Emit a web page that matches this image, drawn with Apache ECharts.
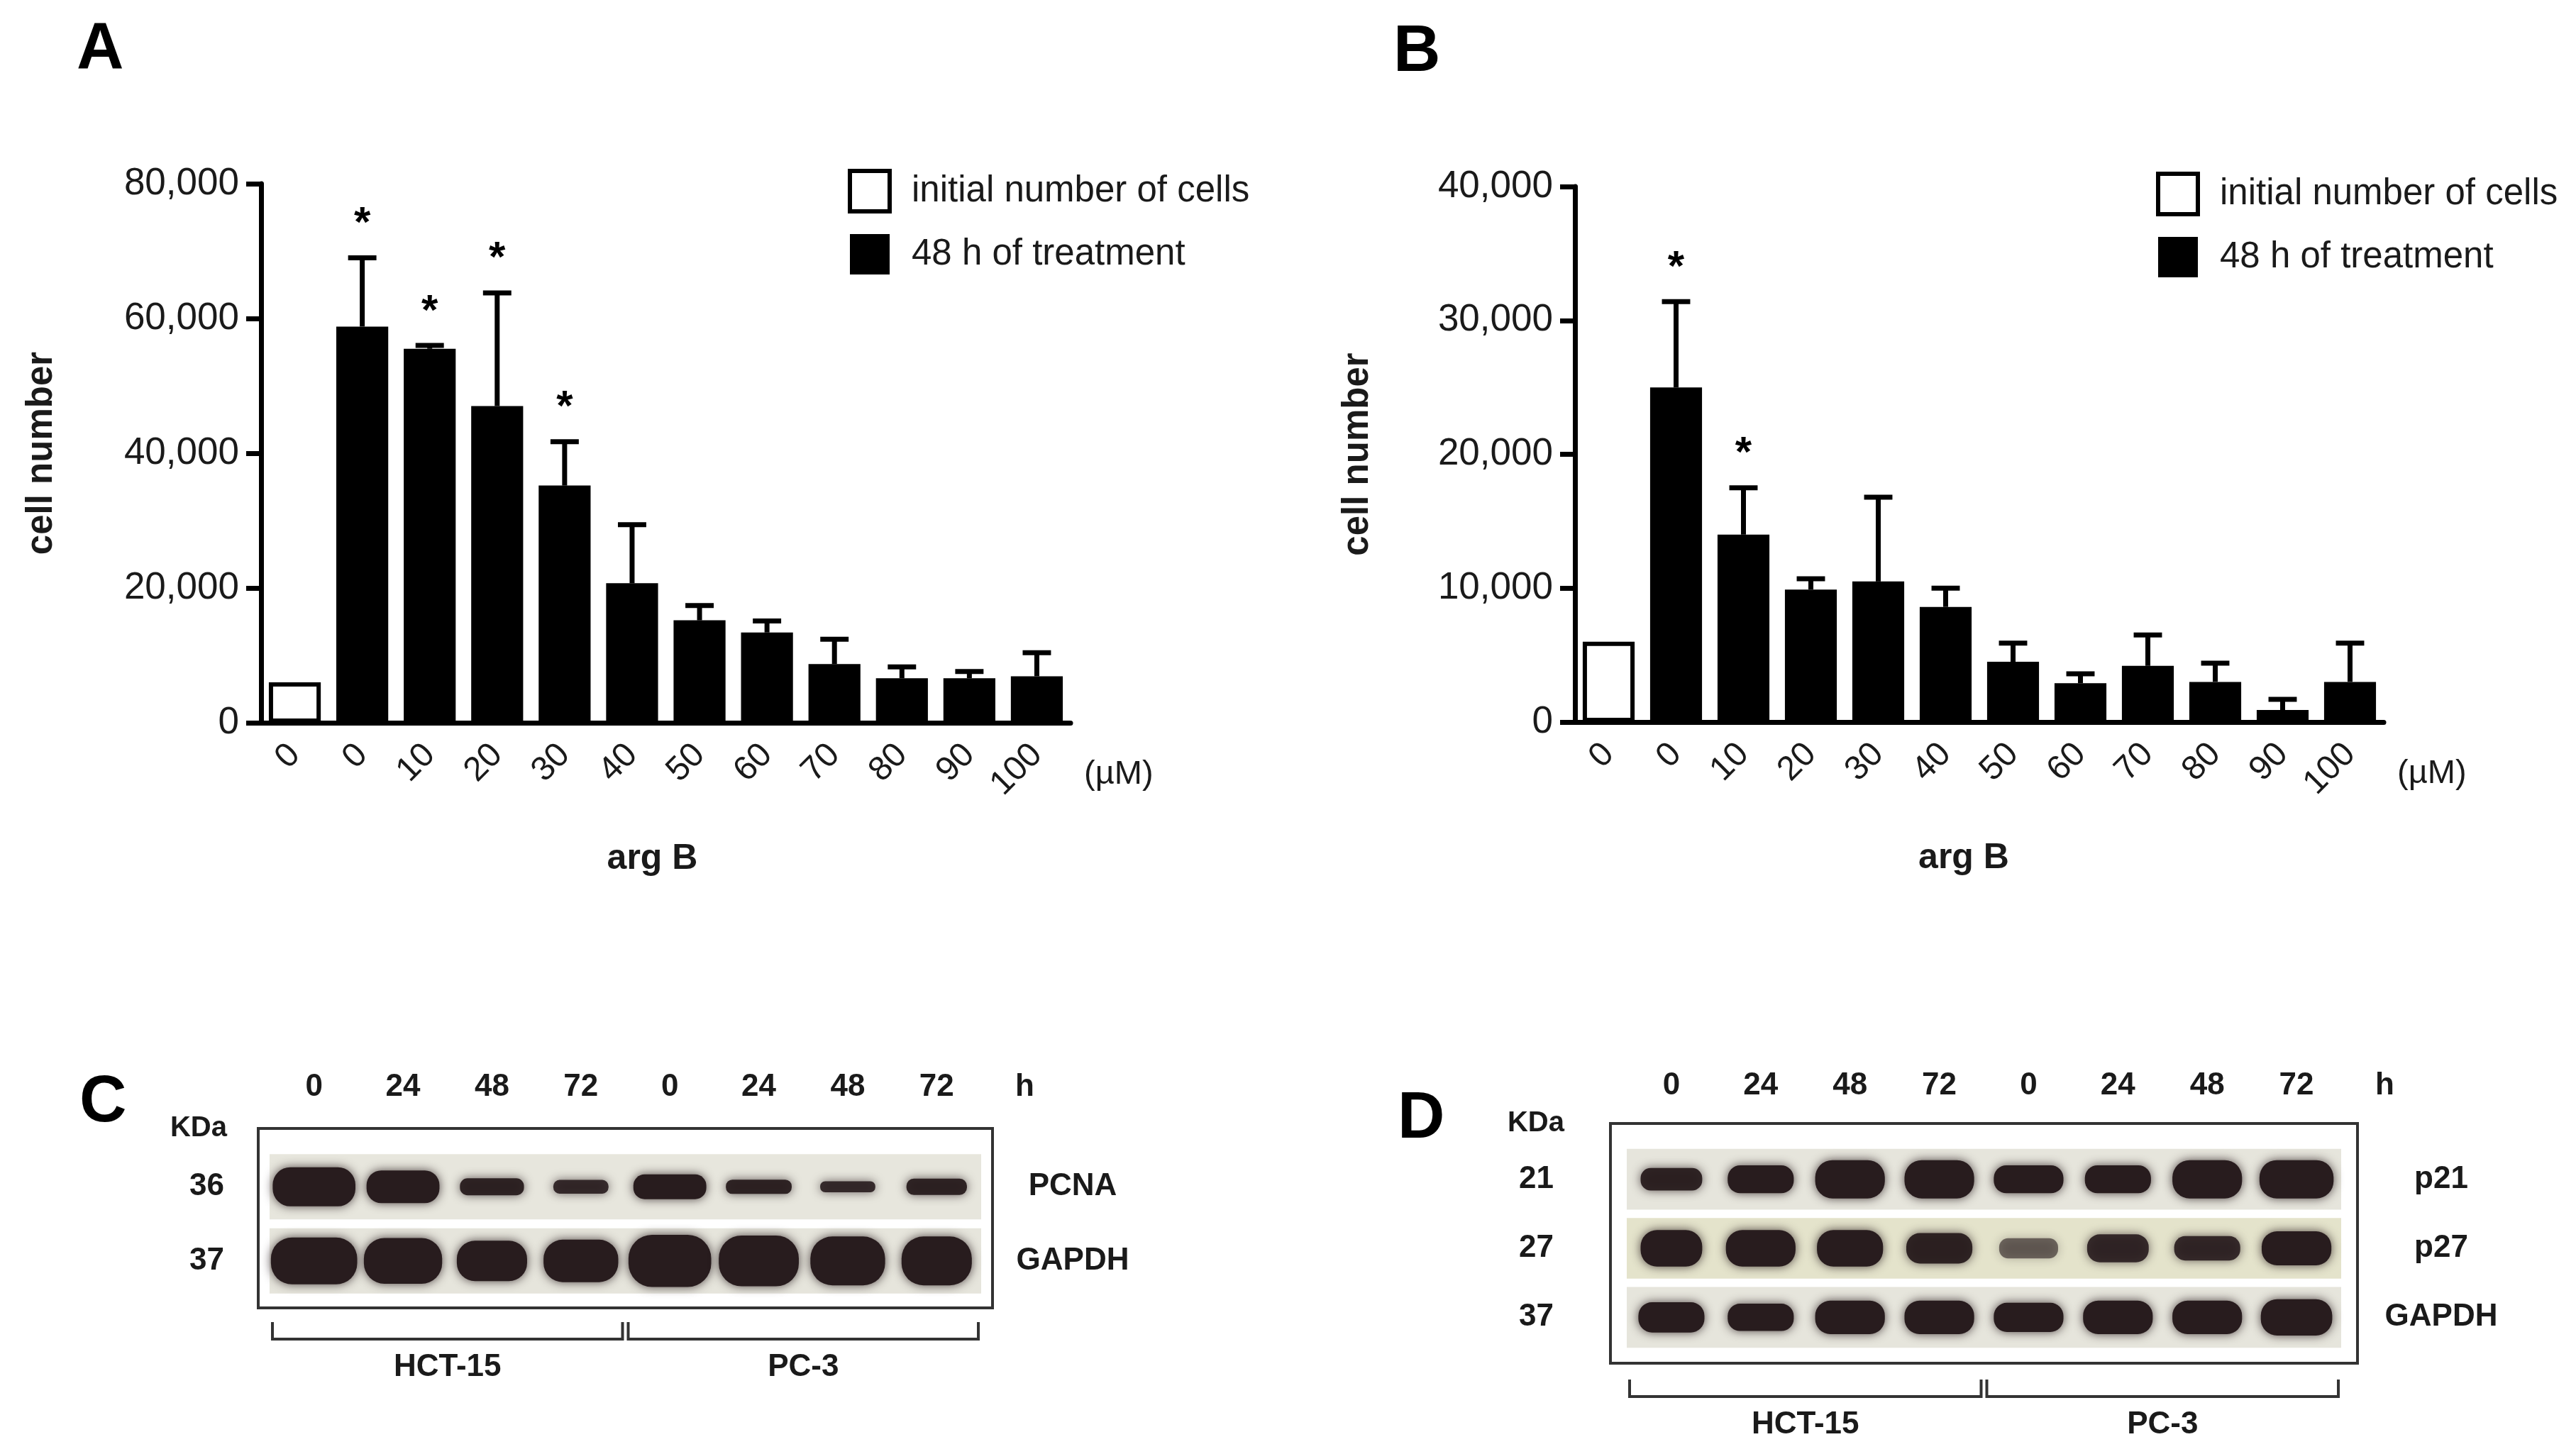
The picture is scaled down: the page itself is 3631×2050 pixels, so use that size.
<!DOCTYPE html>
<html>
<head>
<meta charset="utf-8">
<title>arg B - cell number and western blots</title>
<script src="https://cdn.jsdelivr.net/npm/echarts@6/dist/echarts.min.js"></script>
<style>
html,body{margin:0;padding:0;background:#fff;}
#chart{width:3631px;height:2050px;}
</style>
</head>
<body>
<div id="chart"></div>
<script>
'use strict';

//剂量（µM），第一个为初始细胞数
var doses = ['0', '0', '10', '20', '30', '40', '50', '60', '70', '80', '90', '100'];
var legendNames = ['initial number of cells', '48 h of treatment'];

//A：初始细胞数 + 48 h 处理后（均值 / 误差 / 显著性）
var aInitial = 6000;
var aMean = [58800, 55500, 47000, 35200, 20700, 15200, 13400, 8700, 6600, 6600, 6900];
var aErr  = [10200, 500, 16800, 6500, 8700, 2200, 1700, 3700, 1700, 1000, 3500];
var aStar = [1, 1, 1, 1, 0, 0, 0, 0, 0, 0, 0];
var aTicks = [0, 20000, 40000, 60000, 80000];

//B
var bInitial = 6000;
var bMean = [25000, 14000, 9900, 10500, 8600, 4500, 2900, 4200, 3000, 900, 3000];
var bErr  = [6400, 3500, 800, 6300, 1400, 1400, 700, 2300, 1400, 800, 2900];
var bStar = [1, 1, 0, 0, 0, 0, 0, 0, 0, 0, 0];
var bTicks = [0, 10000, 20000, 30000, 40000];

//Western blot 泳道（h）
var lanes = ['0', '24', '48', '72', '0', '24', '48', '72'];
var cellLines = ['HCT-15', 'PC-3'];
var groupStart = [0, 4];
var groupEnd = [3, 7];

//C：条带宽度（泳道比例）、高度（膜条比例）、深浅
var cProteins = ['PCNA', 'GAPDH'];
var cKda = ['36', '37'];
var cBandW = [
    [0.93, 0.82, 0.72, 0.62, 0.82, 0.74, 0.62, 0.68],
    [0.97, 0.88, 0.79, 0.84, 0.93, 0.9, 0.84, 0.79]
];
var cBandH = [
    [0.6, 0.5, 0.26, 0.21, 0.38, 0.22, 0.17, 0.25],
    [0.72, 0.7, 0.62, 0.65, 0.8, 0.78, 0.75, 0.75]
];
var cBandD = [
    [1, 1, 0.95, 0.9, 1, 0.95, 0.9, 0.95],
    [1, 1, 1, 1, 1, 1, 1, 1]
];

//D
var dProteins = ['p21', 'p27', 'GAPDH'];
var dKda = ['21', '27', '37'];
var dBandW = [
    [0.69, 0.74, 0.78, 0.78, 0.78, 0.74, 0.78, 0.83],
    [0.69, 0.78, 0.74, 0.74, 0.66, 0.69, 0.74, 0.78],
    [0.74, 0.74, 0.78, 0.78, 0.78, 0.78, 0.78, 0.8]
];
var dBandH = [
    [0.37, 0.46, 0.63, 0.63, 0.46, 0.46, 0.63, 0.63],
    [0.6, 0.6, 0.6, 0.5, 0.33, 0.46, 0.4, 0.56],
    [0.5, 0.45, 0.55, 0.55, 0.48, 0.55, 0.55, 0.6]
];
var dBandD = [
    [0.95, 1, 1, 1, 1, 1, 1, 1],
    [1, 1, 1, 0.95, 0.6, 0.9, 0.9, 1],
    [1, 1, 1, 1, 1, 1, 1, 1]
];

var FONT = "'Liberation Sans', Arial, sans-serif";
var NARROW = "'Liberation Sans Narrow', 'Liberation Sans', Arial, sans-serif";
var INK = '#1a1a1a';

function fmt(v) {
    return v.toLocaleString('en-US');
}

//柱状图系列数据
function initialData(v) {
    var d = doses.map(function () { return '-'; });
    d[0] = v;
    return d;
}
function treatData(means) {
    return ['-'].concat(means);
}
function errData(means, errs, stars) {
    return means.map(function (m, i) {
        return [i + 1, m, m + errs[i], stars[i]];
    });
}

//误差线 + 星号
function renderErr(params, api) {
    var x = api.value(0);
    var p0 = api.coord([x, api.value(1)]);
    var p1 = api.coord([x, api.value(2)]);
    var half = api.size([1, 0])[0] * 0.21;
    var st = {stroke: '#000', lineWidth: 7};
    var children = [
        {type: 'line', shape: {x1: p0[0], y1: p0[1], x2: p1[0], y2: p1[1]}, style: st},
        {type: 'line', shape: {x1: p1[0] - half, y1: p1[1], x2: p1[0] + half, y2: p1[1]}, style: st}
    ];
    if (api.value(3)) {
        children.push({
            type: 'text',
            style: {x: p1[0], y: p1[1] - 47, text: '*', align: 'center', verticalAlign: 'middle',
                fontSize: 60, fontWeight: 'bold', fontFamily: FONT, fill: '#000'}
        });
    }
    return {type: 'group', children: children};
}

//膜条背景
function stripRenderer(colors) {
    return function (params, api) {
        var c = api.coord([0, api.value(1)]);
        var h = api.size([1, 1])[1] * 0.88;
        var cs = params.coordSys;
        return {
            type: 'rect',
            shape: {x: cs.x, y: c[1] - h / 2, width: cs.width, height: h},
            style: {fill: colors[params.dataIndex]}
        };
    };
}

//条带
function renderBand(params, api) {
    var c = api.coord([api.value(0), api.value(1)]);
    var sz = api.size([1, 1]);
    var w = sz[0] * api.value(2);
    var h = sz[1] * 0.88 * api.value(3);
    var a = api.value(4);
    return {
        type: 'rect',
        shape: {x: c[0] - w / 2, y: c[1] - h / 2, width: w, height: h, r: h * 0.45},
        style: {fill: 'rgba(40,28,30,' + a + ')', shadowBlur: 14, shadowColor: 'rgba(40,28,30,' + (a * 0.8) + ')'}
    };
}

//细胞系括号
function bracketRenderer(top, textGap) {
    return function (params, api) {
        var lw = api.size([1, 0])[0];
        var x0 = api.coord([api.value(0), 0])[0] - lw / 2 + 4;
        var x1 = api.coord([api.value(1), 0])[0] + lw / 2 - 4;
        var cs = params.coordSys;
        var y0 = cs.y + cs.height + top;
        var y1 = y0 + 24;
        return {
            type: 'group',
            children: [
                {type: 'polyline', shape: {points: [[x0, y0], [x0, y1], [x1, y1], [x1, y0]]},
                    style: {stroke: '#333', lineWidth: 4, fill: null}},
                {type: 'text', style: {x: (x0 + x1) / 2, y: y1 + textGap, text: cellLines[params.dataIndex],
                    align: 'center', verticalAlign: 'middle', fontSize: 44, fontWeight: 'bold',
                    fontFamily: NARROW, fill: INK}}
            ]
        };
    };
}

function bandData(W, H, D, nRows) {
    var out = [];
    for (var r = 0; r < W.length; r++) {
        for (var l = 0; l < lanes.length; l++) {
            //y 轴不反转，第一行在最上面
            out.push([l, nRows - 1 - r, W[r][l], H[r][l], D[r][l]]);
        }
    }
    return out;
}
function stripData(n) {
    var out = [];
    for (var r = 0; r < n; r++) out.push([0, n - 1 - r]);
    return out;
}
function groupData() {
    return cellLines.map(function (n, i) { return [groupStart[i], groupEnd[i], 0]; });
}

function barXAxis(grid) {
    return {
        type: 'category', gridIndex: grid, data: doses, position: 'bottom',
        axisLine: {lineStyle: {color: '#000', width: 7}},
        axisTick: {alignWithLabel: true, length: 20, lineStyle: {color: '#000', width: 7}},
        axisLabel: {interval: 0, rotate: 45, margin: 38, fontSize: 48, fontFamily: FONT, color: INK},
        name: '(µM)', nameLocation: 'end', nameGap: 19,
        nameTextStyle: {fontSize: 47, fontFamily: FONT, color: INK, verticalAlign: 'top', padding: [50, 0, 0, 0]}
    };
}
//只用来放 "arg B" 的隐藏 x 轴
function argXAxis(grid, shift) {
    return {
        type: 'category', gridIndex: grid, data: doses, position: 'bottom',
        axisLine: {show: false}, axisTick: {show: false}, axisLabel: {show: false},
        name: 'arg B', nameLocation: 'middle', nameGap: 192,
        nameTextStyle: {fontSize: 50, fontWeight: 'bold', fontFamily: FONT, color: INK,
            verticalAlign: 'middle', padding: [0, shift, 0, 0]}
    };
}
function barYAxis(grid, ticks, gap) {
    return {
        type: 'value', gridIndex: grid, min: ticks[0], max: ticks[ticks.length - 1],
        interval: ticks[1] - ticks[0],
        axisLine: {show: true, lineStyle: {color: '#000', width: 7}},
        axisTick: {show: true, length: 21, lineStyle: {color: '#000', width: 7}},
        splitLine: {show: false},
        axisLabel: {margin: 31, fontSize: 53, fontFamily: FONT, color: INK, formatter: fmt},
        name: 'cell number', nameLocation: 'middle', nameGap: gap,
        nameTextStyle: {fontSize: 51, fontWeight: 'bold', fontFamily: FONT, color: INK}
    };
}
function blotXAxis(grid, lift) {
    return {
        type: 'category', gridIndex: grid, data: lanes, position: 'top', offset: lift,
        axisLine: {show: false}, axisTick: {show: false},
        axisLabel: {interval: 0, margin: 0, verticalAlign: 'middle', fontSize: 44, fontWeight: 'bold',
            fontFamily: NARROW, color: INK},
        name: 'h', nameLocation: 'end', nameGap: 48,
        nameTextStyle: {fontSize: 44, fontWeight: 'bold', fontFamily: NARROW, color: INK, verticalAlign: 'middle'}
    };
}
function blotYAxis(grid, labels, pos, margin, nameOpt) {
    var ax = {
        type: 'category', gridIndex: grid, data: labels.slice().reverse(), position: pos,
        axisLine: {show: false}, axisTick: {show: false}, splitLine: {show: false},
        axisLabel: {margin: margin, fontSize: 44, fontWeight: 'bold', fontFamily: NARROW, color: INK,
            align: pos === 'right' ? 'center' : 'right'}
    };
    if (nameOpt) {
        ax.name = 'KDa';
        ax.nameLocation = 'end';
        ax.nameGap = 10;
        ax.nameTextStyle = {fontSize: 40, fontWeight: 'bold', fontFamily: NARROW, color: INK,
            align: 'right', padding: [0, nameOpt, 0, 0]};
    }
    return ax;
}
function barLegend(left, top) {
    return {
        left: left, top: top, orient: 'vertical', itemWidth: 56, itemHeight: 57, itemGap: 29,
        icon: 'rect', selectedMode: false,
        textStyle: {fontSize: 51, fontFamily: FONT, color: INK, padding: [0, 0, 0, 26]},
        data: [
            {name: legendNames[0], itemStyle: {color: '#fff', borderColor: '#000', borderWidth: 6}},
            {name: legendNames[1], itemStyle: {color: '#000'}}
        ]
    };
}
function panelTitle(text, left, top) {
    return {text: text, left: left, top: top,
        textStyle: {fontSize: 92, fontWeight: 'bold', fontFamily: FONT, color: '#000'}};
}
function barSeries(axis, initial, means, errs, stars) {
    return [
        {name: legendNames[0], type: 'bar', xAxisIndex: axis, yAxisIndex: axis, data: initialData(initial),
            barWidth: '77%', barGap: '-100%', itemStyle: {color: '#fff', borderColor: '#000', borderWidth: 6}},
        {name: legendNames[1], type: 'bar', xAxisIndex: axis, yAxisIndex: axis, data: treatData(means),
            barWidth: '77%', barGap: '-100%', itemStyle: {color: '#000'}},
        {type: 'custom', xAxisIndex: axis, yAxisIndex: axis, data: errData(means, errs, stars),
            encode: {x: 0, y: [1, 2]}, renderItem: renderErr, z: 5, silent: true}
    ];
}
function blotSeries(xAxis, yAxis, proteins, W, H, D, stripColors, bracketTop) {
    return [
        {type: 'custom', xAxisIndex: xAxis, yAxisIndex: yAxis, data: stripData(proteins.length),
            renderItem: stripRenderer(stripColors), z: 1, silent: true},
        {type: 'custom', xAxisIndex: xAxis, yAxisIndex: yAxis, data: bandData(W, H, D, proteins.length),
            encode: {x: 0, y: 1}, renderItem: renderBand, z: 2, silent: true},
        {type: 'custom', xAxisIndex: xAxis, yAxisIndex: yAxis, data: groupData(),
            encode: {x: [0, 1], y: 2}, renderItem: bracketRenderer(bracketTop, 40), z: 2, silent: true}
    ];
}

var chart = echarts.init(document.getElementById('chart'), null, {renderer: 'canvas'});

var option = {
    backgroundColor: '#fff',
    animation: false,
    title: [
        panelTitle('A', 103, 20),
        panelTitle('B', 1959, 24),
        panelTitle('C', 107, 1505),
        panelTitle('D', 1965, 1528)
    ],
    legend: [barLegend(1190, 233), barLegend(3034, 237)],
    grid: [
        {left: 368, top: 259, right: 2122, bottom: 1031},
        {left: 2220, top: 263, right: 271, bottom: 1032},
        {left: 380, top: 1621, right: 2248, bottom: 220},
        {left: 2293, top: 1614, right: 331, bottom: 144}
    ],
    xAxis: [
        barXAxis(0),
        barXAxis(1),
        blotXAxis(2, 88),
        blotXAxis(3, 83),
        argXAxis(0, 38),
        argXAxis(1, 44)
    ],
    yAxis: [
        barYAxis(0, aTicks, 284),
        barYAxis(1, bTicks, 281),
        blotYAxis(2, cKda, 'left', 64, 60),
        blotYAxis(2, cProteins, 'right', 129),
        blotYAxis(3, dKda, 'left', 103, 88),
        blotYAxis(3, dProteins, 'right', 141)
    ],
    series: [].concat(
        barSeries(0, aInitial, aMean, aErr, aStar),
        barSeries(1, bInitial, bMean, bErr, bStar),
        blotSeries(2, 2, cProteins, cBandW, cBandH, cBandD, ['#e7e6dd', '#e6e5dc'], 34),
        blotSeries(3, 4, dProteins, dBandW, dBandH, dBandD, ['#e6e5dc', '#e4e3cb', '#e6e5dc'], 39)
    ),
    //blot 外框
    graphic: [
        {type: 'rect', shape: {x: 364, y: 1591, width: 1035, height: 253},
            style: {fill: null, stroke: '#333', lineWidth: 4}, silent: true},
        {type: 'rect', shape: {x: 2270, y: 1584, width: 1053, height: 338},
            style: {fill: null, stroke: '#333', lineWidth: 4}, silent: true}
    ]
};

chart.setOption(option);
</script>
</body>
</html>
